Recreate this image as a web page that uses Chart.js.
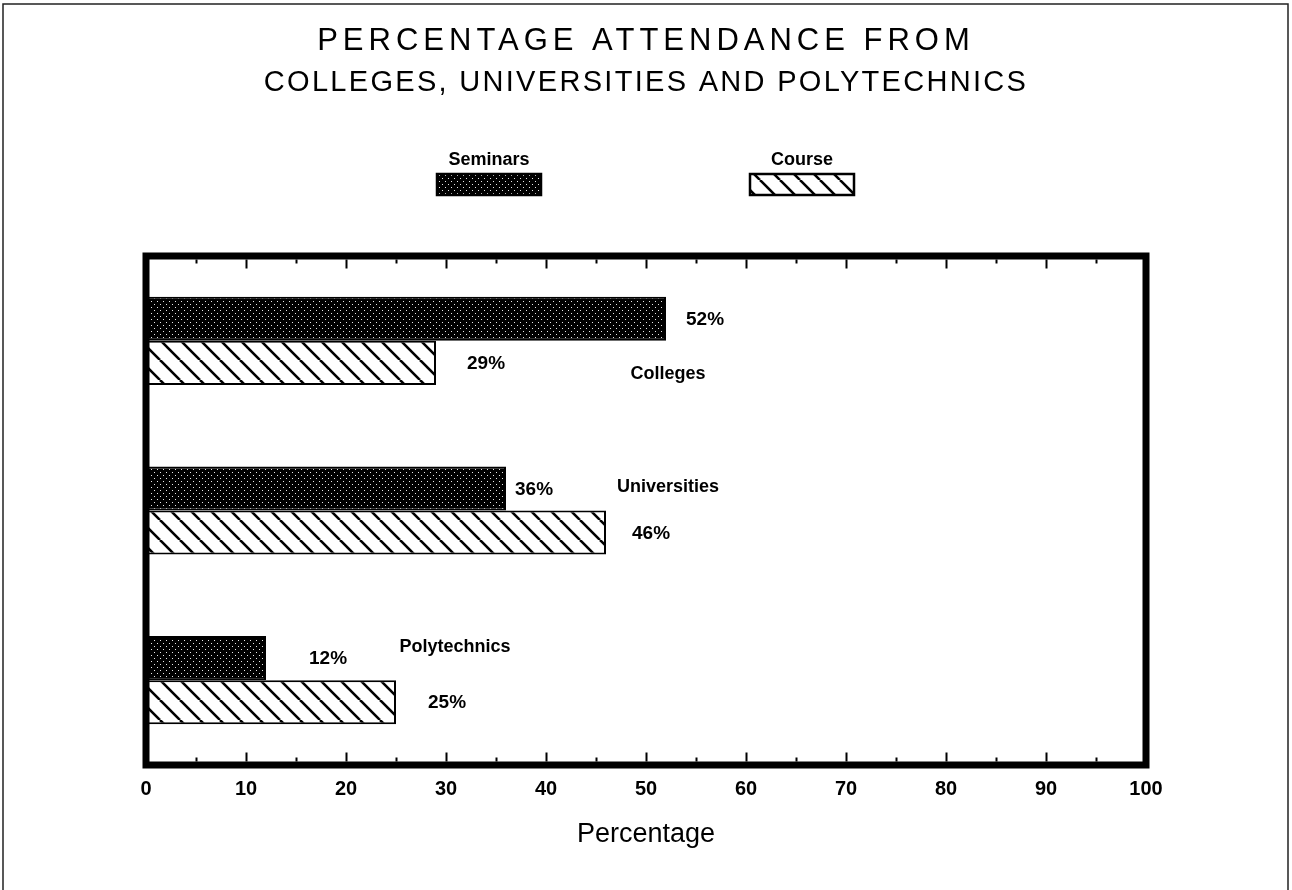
<!DOCTYPE html>
<html>
<head>
<meta charset="utf-8">
<script src="https://cdn.jsdelivr.net/npm/chart.js@4/dist/chart.umd.min.js"></script>
<style>
  html, body { margin: 0; padding: 0; background: #fff; }
  canvas { display: block; }
</style>
</head>
<body>
<canvas id="chart" width="1292" height="890"></canvas>
<script>
// ---- data ----
const categories = ['Colleges', 'Universities', 'Polytechnics'];
const seminars = [52, 36, 12];
const course = [29, 46, 25];
const seriesNames = ['Seminars', 'Course'];
const tickValues = [0, 10, 20, 30, 40, 50, 60, 70, 80, 90, 100];
const titleLines = ['PERCENTAGE ATTENDANCE FROM', 'COLLEGES, UNIVERSITIES AND POLYTECHNICS'];
const axisTitle = 'Percentage';

// ---- fill patterns ----
function stipplePattern() {
  const c = document.createElement('canvas');
  c.width = 6; c.height = 6;
  const g = c.getContext('2d');
  g.fillStyle = '#000';
  g.fillRect(0, 0, 6, 6);
  g.fillStyle = '#e8e8e8';
  g.fillRect(1, 1, 1, 1);
  g.fillRect(4, 4, 1, 1);
  return g.createPattern(c, 'repeat');
}
function hatchPattern() {
  const s = 20;
  const c = document.createElement('canvas');
  c.width = s; c.height = s;
  const g = c.getContext('2d');
  g.fillStyle = '#fff';
  g.fillRect(0, 0, s, s);
  g.strokeStyle = '#000';
  g.lineWidth = 2.6;
  for (const x0 of [-s, 0, s]) {
    g.beginPath();
    g.moveTo(x0, 0);
    g.lineTo(x0 + s, s);
    g.stroke();
  }
  return g.createPattern(c, 'repeat');
}
const fills = [stipplePattern(), hatchPattern()];

const ctx = document.getElementById('chart').getContext('2d');

// Page furniture: outer border, title, legend, plot frame with inward ticks, value and category labels
const decorations = {
  id: 'decorations',
  beforeDraw(chart, args, opts) {
    const g = chart.ctx;
    g.save();
    g.fillStyle = '#fff';
    g.fillRect(0, 0, chart.width, chart.height);
    // outer border (open at the bottom)
    g.strokeStyle = '#222';
    g.lineWidth = 1.5;
    g.beginPath();
    g.moveTo(3, chart.height);
    g.lineTo(3, 4);
    g.lineTo(1288, 4);
    g.lineTo(1288, chart.height);
    g.stroke();
    // title
    g.fillStyle = '#000';
    g.textAlign = 'center';
    g.textBaseline = 'alphabetic';
    opts.title.forEach((t, i) => {
      g.font = t.font;
      g.letterSpacing = t.spacing + 'px';
      g.fillText(titleLines[i], 646, t.baseline);
    });
    g.letterSpacing = '0px';
    // legend
    g.font = 'bold 18px "Liberation Sans", Arial, sans-serif';
    opts.legend.forEach((L, i) => {
      g.fillStyle = '#000';
      g.textAlign = 'center';
      g.fillText(seriesNames[i], L.x + L.w / 2, L.y - 9);
      g.fillStyle = fills[i];
      g.fillRect(L.x, L.y, L.w, L.h);
      g.strokeStyle = '#000';
      g.lineWidth = 2.5;
      g.strokeRect(L.x, L.y, L.w, L.h);
    });
    g.restore();
  },
  afterDatasetsDraw(chart, args, opts) {
    const g = chart.ctx;
    const a = chart.chartArea;
    const xs = chart.scales.x;
    const ys = chart.scales.y;
    g.save();
    // frame
    const fw = 7;
    g.strokeStyle = '#000';
    g.lineWidth = fw;
    g.lineJoin = 'miter';
    g.strokeRect(a.left, a.top, a.right - a.left, a.bottom - a.top);
    // inward tick marks, major every 10, minor every 5
    g.lineWidth = 2;
    for (let v = 5; v < 100; v += 5) {
      const px = Math.round(xs.getPixelForValue(v)) + 0.5;
      const len = v % 10 === 0 ? 9 : 4;
      g.beginPath();
      g.moveTo(px, a.top + fw / 2);
      g.lineTo(px, a.top + fw / 2 + len);
      g.moveTo(px, a.bottom - fw / 2);
      g.lineTo(px, a.bottom - fw / 2 - len);
      g.stroke();
    }
    // value labels beside each bar
    g.fillStyle = '#000';
    g.font = 'bold 19px "Liberation Sans", Arial, sans-serif';
    g.textAlign = 'left';
    g.textBaseline = 'middle';
    chart.data.datasets.forEach((ds, i) => {
      chart.getDatasetMeta(i).data.forEach((bar, j) => {
        g.fillText(ds.data[j] + '%', bar.x + opts.gaps[i][j], bar.y + 1);
      });
    });
    // category names
    g.font = 'bold 18px "Liberation Sans", Arial, sans-serif';
    g.textAlign = 'center';
    chart.data.labels.forEach((lab, j) => {
      const p = opts.catPos[j];
      g.fillText(lab, xs.getPixelForValue(p.at), ys.getPixelForValue(j) + p.dy);
    });
    g.restore();
  }
};

new Chart(ctx, {
  type: 'bar',
  data: {
    labels: categories,
    datasets: [
      { label: seriesNames[0], data: seminars, backgroundColor: fills[0], borderColor: '#000', borderWidth: 2 },
      { label: seriesNames[1], data: course, backgroundColor: fills[1], borderColor: '#000', borderWidth: 2 }
    ]
  },
  options: {
    indexAxis: 'y',
    responsive: false,
    animation: false,
    events: [],
    layout: { padding: { top: 256, left: 146, right: 146, bottom: 0 } },
    datasets: { bar: { categoryPercentage: 0.52, barPercentage: 1.0 } },
    scales: {
      x: {
        min: 0, max: 100,
        afterBuildTicks: s => { s.ticks = tickValues.map(v => ({ value: v })); },
        afterFit: s => { s.height = 125; },
        grid: { display: false, drawTicks: false },
        border: { display: false },
        ticks: {
          padding: 12,
          color: '#000',
          maxRotation: 0,
          autoSkip: false,
          font: { family: '"Liberation Sans", Arial, sans-serif', size: 20, weight: 'bold' }
        },
        title: {
          display: true,
          text: axisTitle,
          color: '#000',
          padding: { top: 39, bottom: 39 },
          font: { family: '"Liberation Sans", Arial, sans-serif', size: 27 }
        }
      },
      y: { display: false }
    },
    plugins: {
      legend: { display: false },
      title: { display: false },
      tooltip: { enabled: false },
      decorations: {
        title: [
          { font: '31px "Liberation Sans", Arial, sans-serif', spacing: 5, baseline: 50 },
          { font: '29px "Liberation Sans", Arial, sans-serif', spacing: 2.3, baseline: 91 }
        ],
        legend: [
          { x: 437, y: 174, w: 104, h: 21 },
          { x: 750, y: 174, w: 104, h: 21 }
        ],
        gaps: [[20, 9, 43], [31, 26, 32]],
        catPos: [
          { at: 52.2, dy: 33 },
          { at: 52.2, dy: -23 },
          { at: 30.9, dy: -33 }
        ]
      }
    }
  },
  plugins: [decorations]
});
</script>
</body>
</html>
